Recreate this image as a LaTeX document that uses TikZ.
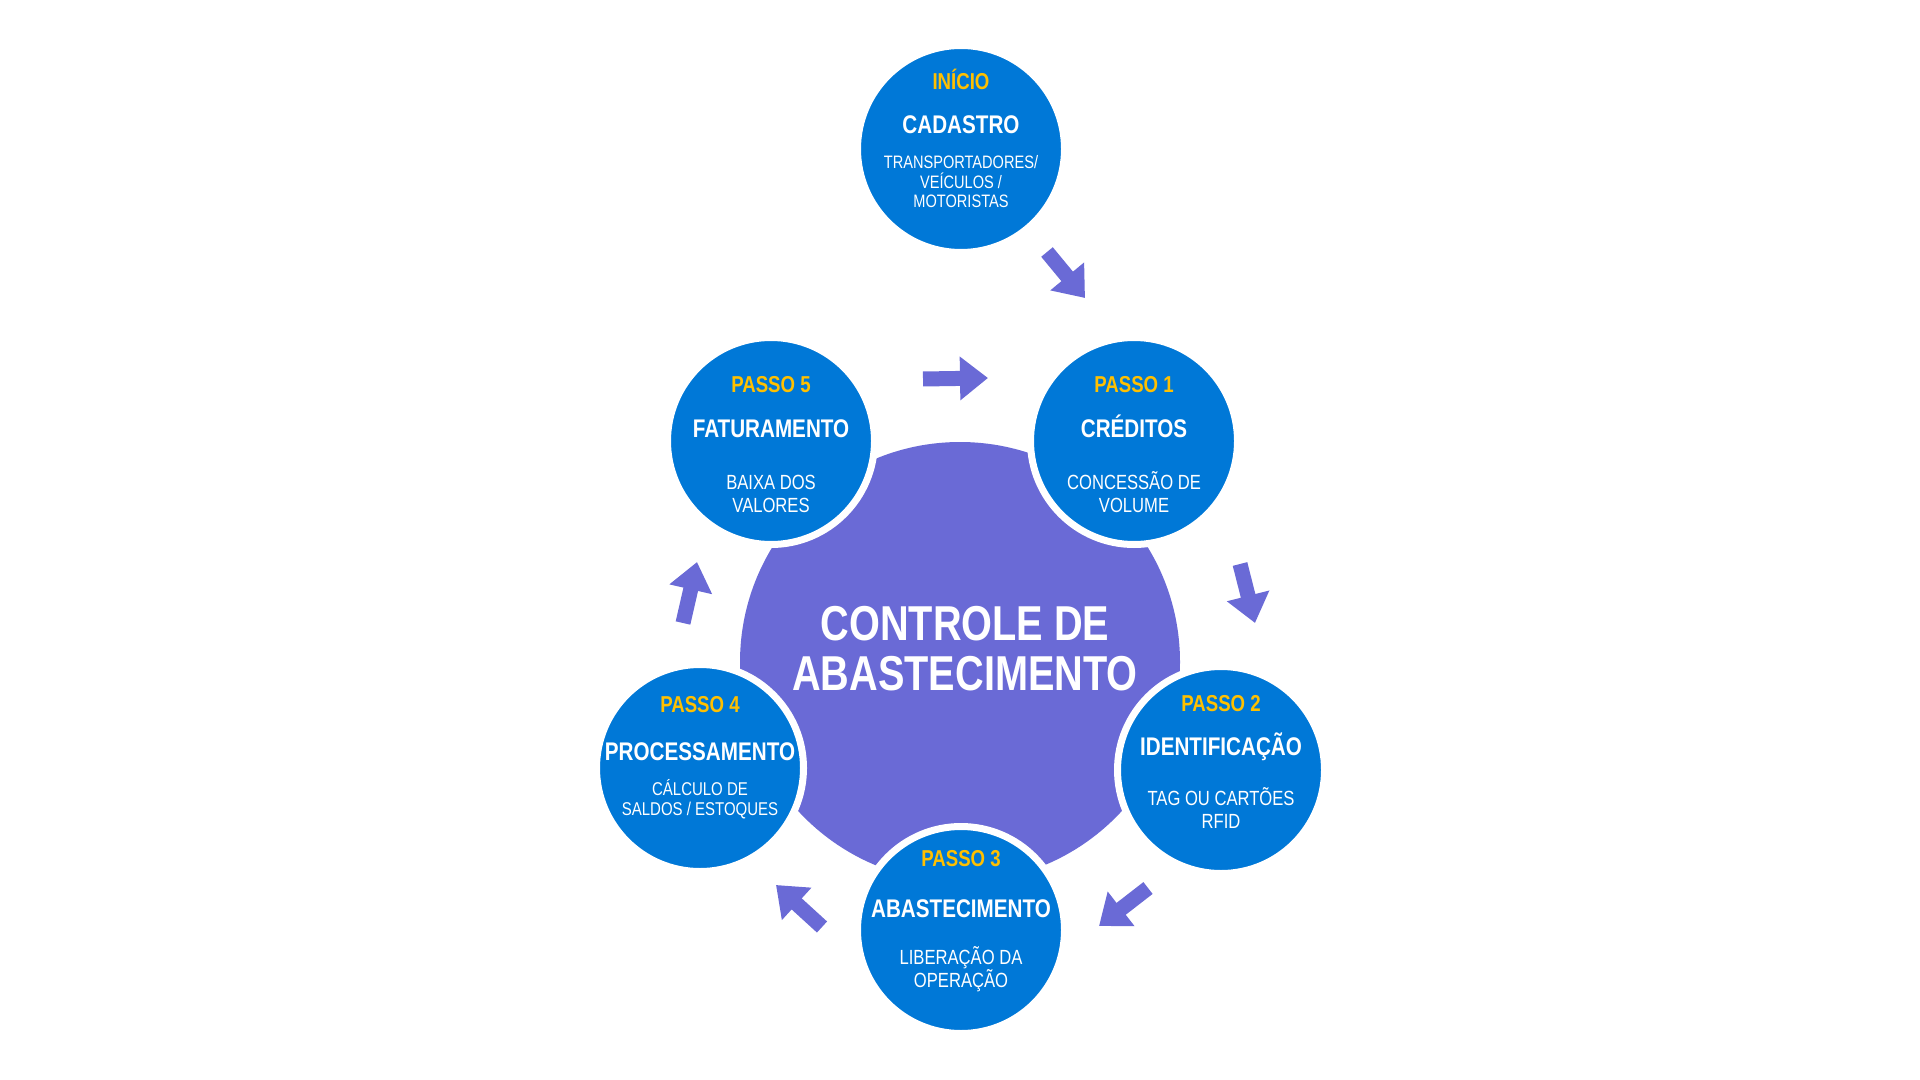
\documentclass[tikz,border=0pt]{standalone}
\usepackage{fontspec}
\setmainfont{Liberation Sans}[FakeStretch=0.81]
\usetikzlibrary{arrows.meta}
\definecolor{stepblue}{RGB}{0,120,215}
\definecolor{hubviolet}{RGB}{106,106,214}
\definecolor{passgold}{RGB}{255,192,0}
\tikzset{
  hub/.style={circle,fill=hubviolet,minimum size=220pt,inner sep=0pt},
  stepcircle/.style={circle,fill=stepblue,draw=white,line width=3.5pt,minimum size=103.5pt,inner sep=0pt},
  passo/.style={anchor=base,text=passgold,font=\fontsize{11.5}{12}\selectfont\bfseries},
  steptitle/.style={anchor=base,text=white,font=\fontsize{12.75}{13}\selectfont\bfseries},
  stepdesc/.style={anchor=base,text=white,align=center,font=\fontsize{10.25}{11.25}\selectfont},
  smalldesc/.style={stepdesc,font=\fontsize{9}{9.75}\selectfont},
  hubtext/.style={anchor=base,text=white,align=center,font=\fontsize{24.5}{25}\selectfont\bfseries},
  flow/.style={draw=hubviolet,line width=7.5pt,-{Triangle[width=21pt,length=14pt]}}
}
\begin{document}
\begin{tikzpicture}[x=0.5pt,y=-0.5pt]
\useasboundingbox (0,0) rectangle (1920,1080);
% centre
\node[hub] (hub) at (960,662) {};
\node[hubtext] (hubtxt) at (965,690) {CONTROLE DE\\ABASTECIMENTO};
% etapas
\node[stepcircle] (inicio) at (961,149) {};
\node[stepcircle] (passoa) at (1134,441) {};
\node[stepcircle] (passob) at (1221,770) {};
\node[stepcircle] (passoc) at (961,930) {};
\node[stepcircle] (passod) at (700,768) {};
\node[stepcircle] (passoe) at (771,441) {};
% textos (base = derniere ligne)
\node[passo] (inicion) at (961,90) {INÍCIO};
\node[steptitle] (iniciot) at (961,134) {CADASTRO};
\node[smalldesc] (iniciod) at (961,208) {TRANSPORTADORES/\\VEÍCULOS /\\MOTORISTAS};
\node[passo] (passoan) at (1134,393) {PASSO 1};
\node[steptitle] (passoat) at (1134,437) {CRÉDITOS};
\node[stepdesc] (passoad) at (1134,512) {CONCESSÃO DE\\VOLUME};
\node[passo] (passobn) at (1221,711) {PASSO 2};
\node[steptitle] (passobt) at (1221,755) {IDENTIFICAÇÃO};
\node[stepdesc] (passobd) at (1221,828) {TAG OU CARTÕES\\RFID};
\node[passo] (passocn) at (961,866) {PASSO 3};
\node[steptitle] (passoct) at (961,917) {ABASTECIMENTO};
\node[stepdesc] (passocd) at (961,987) {LIBERAÇÃO DA\\OPERAÇÃO};
\node[passo] (passodn) at (700,712) {PASSO 4};
\node[steptitle] (passodt) at (700,760) {PROCESSAMENTO};
\node[smalldesc,font=\fontsize{9.25}{10}\selectfont] (passodd) at (700,815) {CÁLCULO DE\\SALDOS / ESTOQUES};
\node[passo] (passoen) at (771,393) {PASSO 5};
\node[steptitle] (passoet) at (771,437) {FATURAMENTO};
\node[stepdesc] (passoed) at (771,512) {BAIXA DOS\\VALORES};
% setas
\coordinate (fa0) at (1047,252); \coordinate (fa1) at (1085,298);
\coordinate (fb0) at (1240,564); \coordinate (fb1) at (1255,623);
\coordinate (fc0) at (1148,888); \coordinate (fc1) at (1099,926);
\coordinate (fd0) at (822,927);  \coordinate (fd1) at (776,885);
\coordinate (fe0) at (683,623);  \coordinate (fe1) at (697,562);
\coordinate (ff0) at (923,379);  \coordinate (ff1) at (988,378);
\draw[flow] (fa0) -- (fa1);
\draw[flow] (fb0) -- (fb1);
\draw[flow] (fc0) -- (fc1);
\draw[flow] (fd0) -- (fd1);
\draw[flow] (fe0) -- (fe1);
\draw[flow] (ff0) -- (ff1);
\end{tikzpicture}
\end{document}
